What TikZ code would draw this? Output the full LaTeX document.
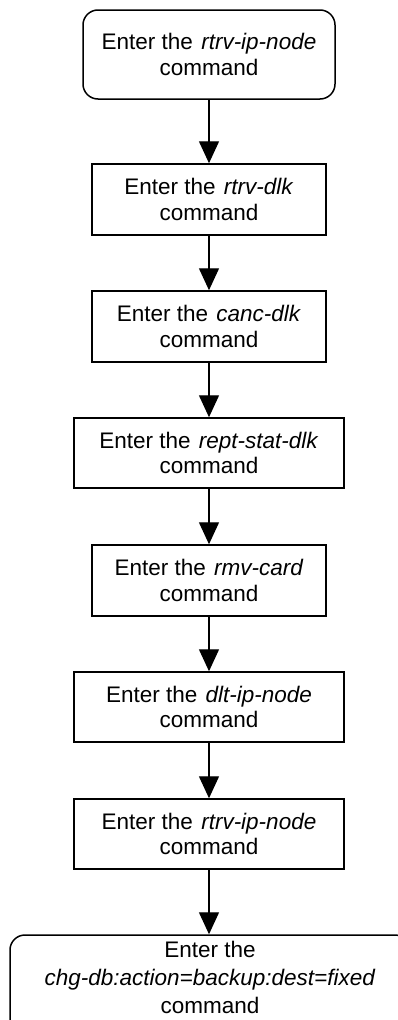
\documentclass[tikz,border=0pt]{standalone}
\usepackage{fontspec}
\setmainfont{Liberation Sans}
\usetikzlibrary{arrows.meta}
\newcommand{\cmdname}[1]{\hspace{2pt}\textit{#1}}
\begin{document}
\begin{tikzpicture}[x=1pt,y=-1pt,
  boxbase/.style={draw=black,line width=1.5pt,inner sep=0pt,align=center,
    font=\fontsize{22.5}{25.5}\selectfont},
  cmdbox/.style={boxbase,rectangle},
  termbox/.style={boxbase,rectangle,rounded corners=15pt},
  flow/.style={line width=1.4pt,-{Triangle[length=22pt,width=20pt]}}]
\useasboundingbox (0,0) rectangle (398,1020);
\clip (0,0) rectangle (398,1020);
\fill[white] (0,0) rectangle (398,1020);
\node[termbox,minimum width=252pt,minimum height=89pt] (n1) at (209,54.5) {Enter the \cmdname{rtrv-ip-node}\\command};
\node[cmdbox,minimum width=234pt,minimum height=71pt] (n2) at (209,199.5) {Enter the \cmdname{rtrv-dlk}\\command};
\node[cmdbox,minimum width=234pt,minimum height=71pt] (n3) at (209,326.5) {Enter the \cmdname{canc-dlk}\\command};
\node[cmdbox,minimum width=270pt,minimum height=70pt] (n4) at (209,453) {Enter the \cmdname{rept-stat-dlk}\\command};
\node[cmdbox,minimum width=234pt,minimum height=71pt] (n5) at (209,580.5) {Enter the \cmdname{rmv-card}\\command};
\node[cmdbox,minimum width=270pt,minimum height=70pt] (n6) at (209,707) {Enter the \cmdname{dlt-ip-node}\\command};
\node[cmdbox,minimum width=270pt,minimum height=70pt] (n7) at (209,834) {Enter the \cmdname{rtrv-ip-node}\\command};
\node[termbox,minimum width=400pt,minimum height=100pt] (n8) at (210,985) {};
\node[inner sep=0pt,align=center,font=\fontsize{22.5}{28}\selectfont] (n8t) at (210,977) {Enter the\\\textit{chg-db:action=backup:dest=fixed}\\command};
\draw[flow] (n1) -- (n2);
\draw[flow] (n2) -- (n3);
\draw[flow] (n3) -- (n4);
\draw[flow] (n4) -- (n5);
\draw[flow] (n5) -- (n6);
\draw[flow] (n6) -- (n7);
\draw[flow] (n7.south) -- (n7.south |- n8.north);
\end{tikzpicture}
\end{document}
